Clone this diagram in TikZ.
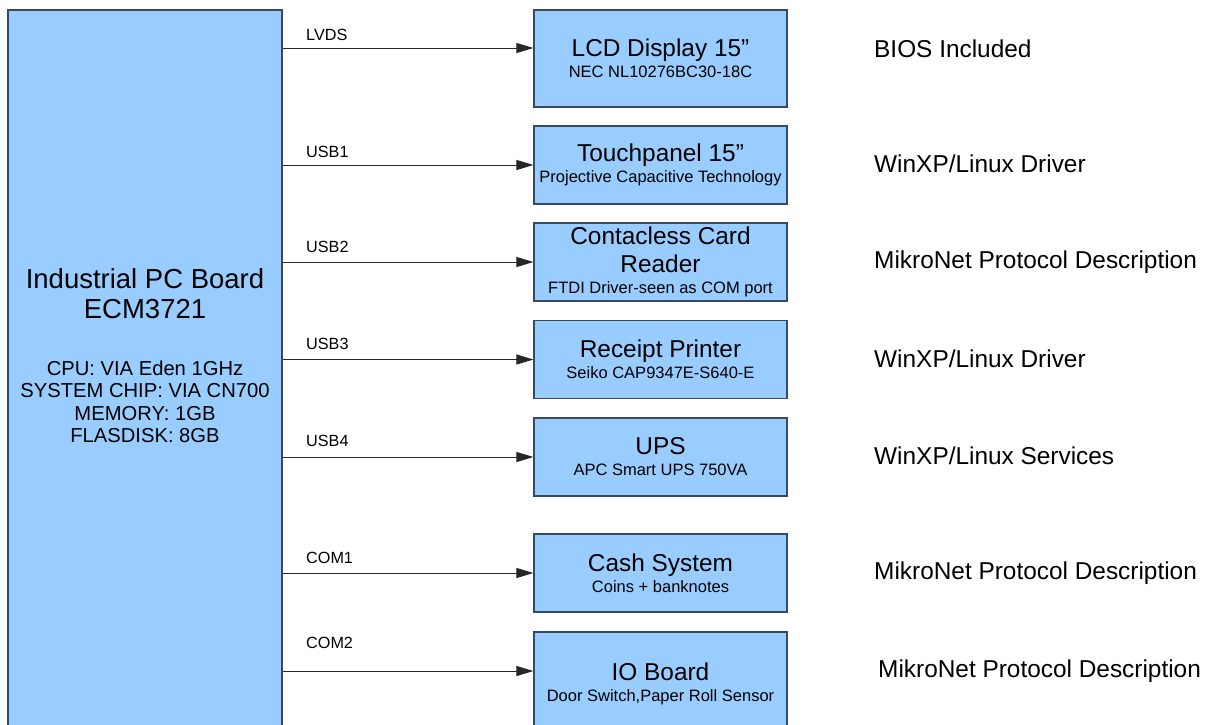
\documentclass[tikz,border=0pt]{standalone}
\usepackage{fontspec}
\setmainfont{Liberation Sans}
\usetikzlibrary{arrows.meta,positioning,calc}
\definecolor{caja}{HTML}{99CCFF}
\definecolor{borde}{HTML}{3A4A5E}
\newcommand{\grande}{\fontsize{24.4}{27}\selectfont}
\newcommand{\chico}{\fontsize{16.5}{21}\selectfont}

\begin{document}
\begin{tikzpicture}[x=1pt, y=-1pt,
  placa/.style={rectangle, draw=borde, fill=caja, line width=1.6pt, minimum width=274pt, minimum height=740pt, inner sep=0pt},
  modulo/.style={rectangle, draw=borde, fill=caja, line width=1.2pt, minimum width=253pt, minimum height=78pt, inner sep=0pt, align=center, font=\chico},
  bus/.style={anchor=west, inner sep=0pt, font=\fontsize{16.2}{18}\selectfont},
  nota/.style={anchor=west, inner sep=0pt, font=\fontsize{24.4}{27}\selectfont},
  lin/.style={-{Triangle[length=17pt, width=10pt]}, line width=1pt, black!85}
]
\clip (0,0) rectangle (1216,724);
% placa principal
\node[placa] (pc) at (145,380) {};
\node[align=center, inner sep=0pt, font=\fontsize{20.2}{22.5}\selectfont] (pctxt) at (145,356)
  {\fontsize{27.5}{30}\selectfont Industrial PC Board\\[7.5pt]\fontsize{27.5}{30}\selectfont ECM3721\\[34pt]
  CPU: VIA Eden 1GHz\\SYSTEM CHIP: VIA CN700\\MEMORY: 1GB\\FLASDISK: 8GB};
% perifericos
\node[modulo, minimum height=97pt] (lcd) at (660.5,58.5) {\grande LCD Display 15”\\ NEC NL10276BC30-18C};
\node[modulo] (touch) at (660.5,165) {\grande Touchpanel 15”\\ Projective Capacitive Technology};
\node[modulo] (card) at (660.5,262) {\grande Contacless Card\\[7pt] \grande Reader\\ FTDI Driver-seen as COM port};
\node[modulo] (print) at (660.5,359.5) {\grande Receipt Printer\\ Seiko CAP9347E-S640-E};
\node[modulo] (ups) at (660.5,457) {\grande UPS\\ APC Smart UPS 750VA};
\node[modulo] (cash) at (660.5,573) {\grande Cash System\\ Coins + banknotes};
\node[modulo, minimum height=104pt] (io) at (660.5,684) {\grande IO Board\\ Door Switch,Paper Roll Sensor};
% buses
\node[bus] (lvds) at (306,35) {LVDS};
\node[bus] (usb1) at (306,152) {USB1};
\node[bus] (usb2) at (306,247) {USB2};
\node[bus] (usb3) at (306,344) {USB3};
\node[bus] (usb4) at (306,441) {USB4};
\node[bus] (com1) at (306,558) {COM1};
\node[bus] (com2) at (306,643) {COM2};
% conexiones
\draw[lin] (pc.east |- 0,48) coordinate (p1) -- (lcd.west |- p1);
\draw[lin] (pc.east |- touch) -- (touch);
\draw[lin] (pc.east |- card) -- (card);
\draw[lin] (pc.east |- print) -- (print);
\draw[lin] (pc.east |- ups) -- (ups);
\draw[lin] (pc.east |- cash) -- (cash);
\draw[lin] (pc.east |- 0,671) coordinate (p7) -- (io.west |- p7);
% notas
\node[nota] (n1) at (874,49) {BIOS Included};
\node[nota] (n2) at (874,164) {WinXP/Linux Driver};
\node[nota] (n3) at (874,262) {MikroNet Protocol Description};
\node[nota] (n4) at (874,359) {WinXP/Linux Driver};
\node[nota] (n5) at (874,456) {WinXP/Linux Services};
\node[nota] (n6) at (874,573) {MikroNet Protocol Description};
\node[nota] (n7) at (878,671) {MikroNet Protocol Description};
\end{tikzpicture}
\end{document}
